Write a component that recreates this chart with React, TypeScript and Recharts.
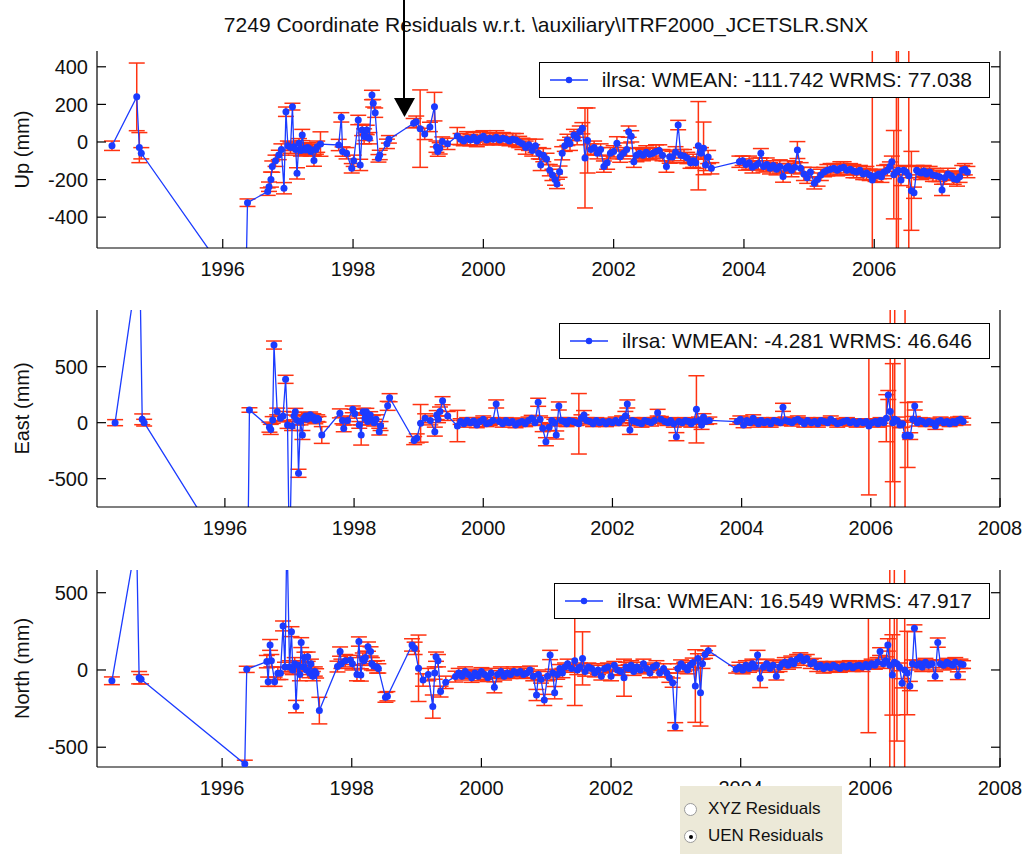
import React from "react";
import { ComposedChart, Line, Scatter, XAxis, YAxis, Legend, Label } from "recharts";

const FONT = '"Liberation Sans", Arial, Helvetica, sans-serif';
const BLUE = "#1b3bff";
const RED = "#ff3311";

// observation epochs (decimal year), shared by the three components
const epochs = [
  1994.30, 1994.68, 1994.72, 1994.75, 1996.35, 1996.38, 1996.69, 1996.71, 1996.74, 1996.76,
  1996.81, 1996.86, 1996.90, 1996.94, 1996.97, 1997.00, 1997.04, 1997.07, 1997.09, 1997.12,
  1997.14, 1997.17, 1997.20, 1997.22, 1997.25, 1997.27, 1997.30, 1997.32, 1997.35, 1997.37,
  1997.40, 1997.43, 1997.45, 1997.50, 1997.78, 1997.82, 1997.84, 1997.90, 1997.98, 1998.01,
  1998.08, 1998.11, 1998.14, 1998.17, 1998.19, 1998.21, 1998.25, 1998.29, 1998.31, 1998.34,
  1998.39, 1998.41, 1998.52, 1998.55, 1998.93, 1998.97, 1999.03, 1999.10, 1999.18, 1999.25,
  1999.28, 1999.30, 1999.33, 1999.37, 1999.45, 1999.60,
  1999.65, 1999.70, 1999.75, 1999.80, 1999.85, 1999.90, 1999.95, 2000.00, 2000.05, 2000.10,
  2000.15, 2000.20, 2000.25, 2000.30, 2000.35, 2000.40, 2000.45, 2000.50, 2000.55, 2000.60,
  2000.65, 2000.70, 2000.75, 2000.80, 2000.85, 2000.88, 2000.92, 2000.97, 2001.02, 2001.06,
  2001.10, 2001.13, 2001.17, 2001.21, 2001.25, 2001.29, 2001.33, 2001.39, 2001.44, 2001.48,
  2001.52, 2001.56, 2001.60, 2001.65, 2001.70, 2001.75, 2001.80, 2001.85, 2001.90, 2001.95,
  2002.00, 2002.05, 2002.10, 2002.15, 2002.20, 2002.23, 2002.27, 2002.31, 2002.35, 2002.40,
  2002.45, 2002.50, 2002.55, 2002.60, 2002.65, 2002.70, 2002.75, 2002.81, 2002.86, 2002.90,
  2002.95, 2002.99, 2003.03, 2003.08, 2003.13, 2003.18, 2003.22, 2003.26, 2003.30, 2003.34,
  2003.38, 2003.41, 2003.45, 2003.50,
  2003.93, 2003.98, 2004.03, 2004.08, 2004.13, 2004.18, 2004.22, 2004.26, 2004.30, 2004.35,
  2004.40, 2004.45, 2004.50, 2004.55, 2004.60, 2004.64, 2004.68, 2004.73, 2004.78, 2004.82,
  2004.87, 2004.92, 2004.97, 2005.02, 2005.08, 2005.13, 2005.18, 2005.23, 2005.28, 2005.33,
  2005.38, 2005.43, 2005.48, 2005.53, 2005.58, 2005.63, 2005.68, 2005.73, 2005.78, 2005.83,
  2005.88, 2005.93, 2005.97, 2006.02, 2006.07, 2006.11, 2006.15, 2006.20, 2006.24, 2006.27,
  2006.30, 2006.34, 2006.37, 2006.41, 2006.45, 2006.49, 2006.53, 2006.57, 2006.61, 2006.65,
  2006.68, 2006.72, 2006.76, 2006.80, 2006.85, 2006.90, 2006.95, 2007.00, 2007.04, 2007.08,
  2007.13, 2007.18, 2007.22, 2007.27, 2007.31, 2007.35, 2007.39, 2007.43,
];

// Up residuals (mm) and 1-sigma errors
const upValues = [
  -20, 240, -30, -60, -850, -323, -264, -238, -200, -131,
  -100, -69, -40, -246, 161, -20, -30, 188, -25, -40,
  -167, -7, -45, 37, -35, -43, -30, -34, -50, -43,
  -99, -40, -25, -11, -16, 131, -51, -60, -140, -100,
  117, -122, 64, 30, 28, 64, 20, 250, 206, 156,
  -87, -69, -10, 14, 100, 108, 71, 43, 80, 188,
  -25, -51, -34, 2, -10, 32,
  15, 5, 20, 10, 25, 5, 20, 30, 10, 20,
  15, 25, 10, 20, 15, 5, 15, 10, 0, -10,
  -30, -15, -45, -20, -60, -122, -70, -90, -150, -175,
  -200, -223, -158, -60, -20, 11, -10, 37, 20, 55,
  73, -85, 8, -40, -30, -60, -40, -131, -110, -60,
  -50, -7, -78, -60, -40, 55, 30, -105, -70, -60,
  -70, -55, -65, -60, -50, -45, -70, -131, -78, -80,
  -55, 90, -70, -75, -85, -110, -100, -110, -20, -60,
  -34, -122, -80, -140,
  -105, -100, -120, -110, -135, -125, -115, -60, -130, -120,
  -140, -125, -145, -130, -184, -140, -130, -150, -135, -43,
  -140, -170, -190, -160, -220, -200, -175, -160, -150, -145,
  -140, -150, -140, -135, -150, -145, -155, -160, -150, -170,
  -165, -175, -202, -180, -170, -185, -160, -150, -131, -105,
  -174, -160, -150, -202, -150, -160, -180, -260, -270, -150,
  -160, -165, -155, -170, -160, -175, -180, -185, -255, -190,
  -170, -180, -195, -200, -185, -150, -145, -160,
];
const upErrors = [
  25, 180, 80, 30, 30, 20, 20, 25, 40, 30,
  30, 25, 30, 30, 25, 25, 30, 18, 20, 30,
  30, 25, 30, 30, 25, 25, 25, 30, 25, 30,
  30, 25, 30, 65, 30, 25, 25, 30, 25, 30,
  25, 30, 30, 40, 20, 25, 30, 25, 20, 25,
  20, 25, 25, 20, 25, 30, 206, 30, 25, 76,
  30, 25, 30, 25, 30, 45,
  30, 25, 35, 30, 25, 30, 35, 30, 25, 30,
  30, 35, 25, 30, 30, 25, 30, 35, 30, 30,
  35, 30, 30, 35, 30, 30, 35, 30, 30, 30,
  30, 25, 30, 35, 30, 30, 35, 30, 35, 30,
  30, 266, 173, 30, 35, 30, 30, 30, 35, 30,
  30, 35, 30, 30, 35, 30, 30, 30, 35, 30,
  30, 35, 30, 30, 35, 30, 30, 30, 35, 30,
  30, 25, 30, 35, 30, 30, 35, 30, 235, 30,
  140, 30, 35, 30,
  30, 25, 30, 35, 30, 25, 30, 25, 30, 35,
  30, 25, 30, 35, 30, 25, 30, 35, 30, 45,
  30, 35, 30, 25, 30, 35, 30, 25, 30, 30,
  25, 30, 35, 30, 25, 30, 35, 30, 25, 30,
  35, 30, 800, 30, 25, 30, 35, 30, 25, 30,
  235, 900, 900, 30, 25, 30, 800, 210, 30, 25,
  30, 35, 30, 25, 30, 35, 30, 25, 30, 35,
  30, 25, 30, 35, 30, 25, 30, 30,
];

// East residuals (mm) and errors
const eastValues = [
  0, 1520, 30, 0, -1480, 113, -40, -60, 24, 693,
  100, 39, 60, 387, -21, -1300, -30, 60, 98, 20,
  -452, 10, -110, 40, 60, 30, 50, 70, 40, 50,
  20, 40, 30, -110, 83, 20, -51, 20, 119, 80,
  -20, -110, 98, 40, 98, 10, 68, 24, 0, 30,
  -80, -30, 150, 223, -160, -140, -6, 39, 20, -80,
  68, 30, 100, 196, 60, -30,
  10, -10, 20, 0, 15, -20, 10, 30, -10, 0,
  20, 167, 10, -10, 20, 0, 10, -20, 0, 10,
  -10, 20, 40, 0, 182, 30, -50, -170, -40, 20,
  0, -110, 149, 20, 10, -10, 20, 10, 0, -10,
  40, 68, 20, 10, -10, 20, 0, 10, -10, 10,
  0, 20, 0, 30, 60, 167, -65, 20, 10, 0,
  -10, 20, 10, 0, 20, 89, 30, 10, 0, 20,
  -10, -125, 10, 0, 20, 10, -10, 10, 119, 20,
  -20, 50, 10, 20,
  10, 30, -20, 20, 0, 40, 10, -10, 20, 0,
  10, -10, 20, 10, 0, 137, 20, 10, 0, 20,
  30, 10, -10, 20, 0, 10, -10, 20, 10, 0,
  30, 10, -10, 0, 10, 20, 0, 10, -10, 10,
  0, 10, -30, 0, 10, -10, 20, 0, 40, 247,
  100, 0, 30, 20, -20, -10, -120, -110, -120, 30,
  149, 0, 20, 10, -10, 10, 0, -30, 10, 20,
  0, 10, -10, 10, 0, 20, 30, 10,
];
const eastErrors = [
  27, 50, 48, 30, 30, 20, 45, 45, 30, 36,
  30, 30, 40, 36, 30, 40, 40, 35, 30, 40,
  36, 30, 40, 30, 30, 30, 30, 25, 30, 30,
  30, 30, 25, 75, 40, 30, 30, 40, 30, 40,
  30, 90, 30, 40, 30, 30, 30, 40, 30, 40,
  30, 40, 40, 36, 36, 40, 168, 40, 40, 40,
  40, 30, 40, 36, 40, 140,
  25, 30, 25, 25, 30, 25, 25, 30, 25, 25,
  25, 36, 25, 30, 25, 25, 30, 25, 25, 30,
  25, 30, 25, 25, 36, 30, 30, 36, 30, 25,
  30, 36, 36, 25, 30, 25, 25, 30, 25, 270,
  30, 40, 25, 30, 25, 25, 30, 25, 25, 30,
  25, 30, 25, 30, 40, 36, 40, 25, 30, 25,
  30, 25, 25, 30, 25, 30, 25, 30, 25, 25,
  30, 36, 25, 30, 25, 25, 30, 25, 300, 30,
  40, 30, 25, 30,
  25, 30, 25, 30, 25, 30, 25, 30, 25, 30,
  25, 30, 25, 30, 25, 36, 30, 25, 30, 25,
  30, 25, 30, 25, 30, 25, 30, 25, 30, 25,
  30, 25, 30, 25, 30, 25, 30, 25, 30, 25,
  30, 25, 615, 30, 25, 30, 25, 30, 210, 40,
  1300, 527, 1300, 30, 25, 30, 1300, 290, 30, 25,
  36, 30, 25, 30, 25, 30, 25, 30, 25, 30,
  25, 30, 25, 30, 25, 30, 25, 30,
];

// North residuals (mm) and errors
const northValues = [
  -70, 850, -50, -60, -609, 4, 54, -76, 162, 60,
  -76, -22, -22, 285, 20, 900, 20, 248, 0, 40,
  -237, 30, -30, 177, 20, 80, 0, 86, -20, 40,
  -40, -10, -22, -263, 22, 119, 40, 60, 65, 40,
  -30, 184, -32, 70, 60, 80, 151, 120, 40, 26,
  20, 10, -177, -170, 162, 140, 11, -65, -30, -237,
  -20, 86, 60, -140, -80, -43,
  -20, -40, -10, -30, -50, -20, -40, -10, -30, -50,
  -20, -112, -30, -10, -40, -20, -30, -10, -20, -10,
  -30, -20, 0, -40, -162, -30, -60, -194, -40, 97,
  -20, -147, -30, 10, -20, 20, 40, 10, 60, 0,
  20, 75, -10, 20, 10, -20, 0, -40, 10, 20,
  -40, 30, 0, -10, -50, 20, 10, 30, -10, 20,
  0, 40, 10, -20, 20, 30, -20, 10, -20, -50,
  -82, -367, 10, 40, 20, 0, 30, 47, -104, 75,
  -147, 40, 100, 125,
  5, 20, 0, 30, 10, 40, 20, 97, -54, 20,
  40, 10, 30, -40, 20, 40, 50, 30, 60, 40,
  70, 86, 60, 75, 40, 50, 20, 30, 10, 25,
  15, 30, 20, 10, 25, 20, 30, 15, 25, 30,
  20, 35, 20, 40, 30, 50, 119, 40, 60, 162,
  30, -32, 50, 40, 20, -86, 0, -20, -104, 40,
  270, 30, 40, 20, 50, 30, 40, -40, 177, 40,
  30, 50, 40, 30, 50, -37, 40, 35,
];
const northErrors = [
  25, 40, 40, 30, 25, 20, 40, 30, 35, 40,
  30, 40, 40, 32, 30, 40, 40, 32, 30, 40,
  40, 30, 40, 32, 30, 35, 30, 30, 30, 30,
  30, 30, 30, 86, 35, 30, 30, 40, 30, 40,
  40, 30, 40, 40, 30, 40, 30, 30, 40, 30,
  40, 30, 32, 30, 40, 40, 215, 40, 40, 75,
  40, 30, 40, 35, 40, 35,
  30, 25, 30, 25, 30, 25, 30, 25, 30, 25,
  30, 36, 25, 30, 25, 30, 25, 30, 25, 30,
  25, 30, 25, 30, 36, 30, 25, 36, 30, 30,
  25, 40, 30, 25, 30, 25, 30, 25, 290, 30,
  25, 172, 30, 25, 30, 25, 30, 25, 30, 25,
  30, 25, 30, 25, 120, 30, 25, 30, 25, 30,
  25, 30, 25, 30, 25, 30, 25, 30, 25, 30,
  30, 26, 30, 25, 30, 25, 30, 30, 235, 30,
  216, 30, 25, 30,
  25, 30, 25, 30, 25, 30, 25, 30, 60, 25,
  30, 25, 30, 25, 30, 25, 30, 25, 30, 25,
  30, 25, 30, 25, 30, 25, 30, 25, 30, 25,
  30, 25, 30, 25, 30, 25, 30, 25, 30, 25,
  30, 25, 426, 30, 25, 30, 25, 30, 25, 40,
  1300, 260, 1300, 500, 25, 30, 1300, 270, 30, 25,
  22, 30, 25, 30, 25, 30, 25, 30, 30, 25,
  30, 25, 30, 25, 30, 25, 30, 25,
];

const yearTicks = [1996, 1998, 2000, 2002, 2004, 2006, 2008];
const upYearTicks = [1996, 1998, 2000, 2002, 2004, 2006];
const upTicks = [-400, -200, 0, 200, 400];
const eastTicks = [-500, 0, 500];
const northTicks = [-500, 0, 500];

// residual rows, error bars as vertical segments (low, high, gap) for a clipped Line,
// and the cap positions that fall inside the y range
function buildSeries(values: number[], errors: number[], yDomain: number[]) {
  const rows = epochs.map((t, i) => ({ t, v: values[i] }));
  const bars: { t: number; e: number | null }[] = [];
  const caps: { t: number; cap: number }[] = [];
  epochs.forEach((t, i) => {
    const lo = values[i] - errors[i];
    const hi = values[i] + errors[i];
    bars.push({ t, e: lo }, { t, e: hi }, { t, e: null });
    [lo, hi].forEach((c) => {
      if (c >= yDomain[0] && c <= yDomain[1]) caps.push({ t, cap: c });
    });
  });
  return { rows, bars, caps };
}

const CHART_W = 1030;
const PLOT_TOP = 10;
const PLOT_H = 197;
const X_AXIS_H = 40;
const LEFT_MARGIN = 37;
const Y_AXIS_W = 60;
const RIGHT_AXIS_W = 30;
const TICK_LEN = 9;
const PLOT_LEFT = LEFT_MARGIN + Y_AXIS_W;
const PLOT_W = CHART_W - PLOT_LEFT - RIGHT_AXIS_W;
const CHART_H = PLOT_TOP + PLOT_H + X_AXIS_H;

const panels = [
  {
    key: "up",
    label: "Up (mm)",
    top: 41,
    maskAbove: 41,
    xDomain: [1994.07, 2007.93],
    xTicks: upYearTicks,
    yDomain: [-564, 484],
    yTicks: upTicks,
    legend: "ilrsa: WMEAN: -111.742 WRMS: 77.038",
    legendTop: 21,
    ...buildSeries(upValues, upErrors, [-564, 484]),
  },
  {
    key: "east",
    label: "East (mm)",
    top: 300,
    maskAbove: 10,
    xDomain: [1994.02, 2008],
    xTicks: yearTicks,
    yDomain: [-753, 1006],
    yTicks: eastTicks,
    legend: "ilrsa: WMEAN: -4.281 WRMS: 46.646",
    legendTop: 23,
    ...buildSeries(eastValues, eastErrors, [-753, 1006]),
  },
  {
    key: "north",
    label: "North (mm)",
    top: 560,
    maskAbove: 10,
    xDomain: [1994.07, 2008],
    xTicks: yearTicks,
    yDomain: [-628, 647],
    yTicks: northTicks,
    legend: "ilrsa: WMEAN: 16.549 WRMS: 47.917",
    legendTop: 23,
    ...buildSeries(northValues, northErrors, [-628, 647]),
  },
];

const BottomTick = (props: any) => {
  const { x, y, payload } = props;
  return (
    <g>
      <line x1={x} y1={y} x2={x} y2={y - TICK_LEN} stroke="#000" strokeWidth={1.2} />
      <text x={x} y={y + 28} textAnchor="middle" fontSize={20} fontFamily={FONT} fill="#111">
        {payload.value}
      </text>
    </g>
  );
};

const TopTick = (props: any) => {
  const { x, y } = props;
  return <line x1={x} y1={y} x2={x} y2={y + TICK_LEN} stroke="#000" strokeWidth={1.2} />;
};

const LeftTick = (props: any) => {
  const { x, y, payload } = props;
  return (
    <g>
      <line x1={x} y1={y} x2={x + TICK_LEN} y2={y} stroke="#000" strokeWidth={1.2} />
      <text x={x - 9} y={y} dy="0.36em" textAnchor="end" fontSize={20} fontFamily={FONT} fill="#111">
        {payload.value}
      </text>
    </g>
  );
};

const RightTick = (props: any) => {
  const { x, y } = props;
  return <line x1={x} y1={y} x2={x - TICK_LEN} y2={y} stroke="#000" strokeWidth={1.2} />;
};

// horizontal end cap of an error bar
const CapShape = (props: any) => {
  const { cx, cy } = props;
  if (cx == null || cy == null) return null;
  return <line x1={cx - 8} y1={cy} x2={cx + 8} y2={cy} stroke={RED} strokeWidth={1.5} />;
};

const LegendBox = ({ text }: { text: string }) => (
  <div
    style={{
      display: "flex",
      alignItems: "center",
      height: 34,
      border: "1.5px solid #000",
      background: "#fff",
      padding: "0 17px 0 10px",
    }}
  >
    <svg width={38} height={12} style={{ marginRight: 14, flex: "none" }}>
      <line x1={0} y1={6} x2={38} y2={6} stroke={BLUE} strokeWidth={1.5} />
      <circle cx={19} cy={6} r={3.2} fill={BLUE} />
    </svg>
    <span style={{ fontFamily: FONT, fontSize: 21, color: "#111", whiteSpace: "nowrap" }}>{text}</span>
  </div>
);

// the same axis frame for the error-bar layer and the main layer
function axes(p: any, withTicks: boolean) {
  const frame = withTicks ? { stroke: "#000", strokeWidth: 1.2 } : false;
  return [
    <XAxis
      key="xb"
      xAxisId="b"
      dataKey="t"
      type="number"
      domain={p.xDomain}
      ticks={p.xTicks}
      allowDataOverflow
      interval={0}
      height={X_AXIS_H}
      tickSize={0}
      tickMargin={0}
      tickLine={false}
      axisLine={frame}
      tick={withTicks ? (q: any) => <BottomTick {...q} /> : false}
    />,
    <XAxis
      key="xt"
      xAxisId="t"
      orientation="top"
      dataKey="t"
      type="number"
      domain={p.xDomain}
      ticks={p.xTicks}
      allowDataOverflow
      interval={0}
      height={0}
      tickSize={0}
      tickMargin={0}
      tickLine={false}
      axisLine={frame}
      tick={withTicks ? (q: any) => <TopTick {...q} /> : false}
    />,
    <YAxis
      key="yr"
      yAxisId="r"
      orientation="right"
      type="number"
      domain={p.yDomain}
      ticks={p.yTicks}
      allowDataOverflow
      interval={0}
      width={RIGHT_AXIS_W}
      tickSize={0}
      tickMargin={0}
      tickLine={false}
      axisLine={frame}
      tick={withTicks ? (q: any) => <RightTick {...q} /> : false}
    />,
  ];
}

// white strips around the plot box, laid between the error-bar layer and the axes layer,
// so that bars running off the axes stop at the frame
function Masks({ above }: { above: number }) {
  const white = { position: "absolute" as const, background: "#fff" };
  const below = 60;
  return (
    <>
      <div style={{ ...white, left: 0, top: -above, width: CHART_W, height: PLOT_TOP + above }} />
      <div style={{ ...white, left: 0, top: PLOT_TOP + PLOT_H, width: CHART_W, height: X_AXIS_H + below }} />
      <div style={{ ...white, left: 0, top: PLOT_TOP, width: PLOT_LEFT, height: PLOT_H }} />
      <div style={{ ...white, left: PLOT_LEFT + PLOT_W, top: PLOT_TOP, width: RIGHT_AXIS_W, height: PLOT_H }} />
    </>
  );
}

function Panel({ p }: { p: any }) {
  const midY = PLOT_TOP + PLOT_H / 2;
  return (
    <div style={{ position: "absolute", left: 0, top: p.top, width: CHART_W, height: CHART_H }}>
      {/* error bars underneath */}
      <div style={{ position: "absolute", left: 0, top: 0 }}>
        <ComposedChart
          width={CHART_W}
          height={CHART_H}
          data={p.rows}
          margin={{ top: PLOT_TOP, right: 0, bottom: 0, left: LEFT_MARGIN }}
        >
          {axes(p, false)}
          <YAxis
            yAxisId="l"
            type="number"
            domain={p.yDomain}
            ticks={p.yTicks}
            allowDataOverflow
            width={Y_AXIS_W}
            tick={false}
            tickLine={false}
            axisLine={false}
          />
          <Line
            xAxisId="b"
            yAxisId="l"
            data={p.bars}
            dataKey="e"
            type="linear"
            stroke={RED}
            strokeWidth={1.5}
            dot={false}
            activeDot={false}
            connectNulls={false}
            legendType="none"
            isAnimationActive={false}
          />
          <Scatter
            xAxisId="b"
            yAxisId="l"
            data={p.caps}
            dataKey="cap"
            shape={CapShape}
            legendType="none"
            isAnimationActive={false}
          />
        </ComposedChart>
      </div>
      <Masks above={p.maskAbove} />
      {/* axes frame, residual line and legend */}
      <div style={{ position: "absolute", left: 0, top: 0 }}>
        <ComposedChart
          width={CHART_W}
          height={CHART_H}
          data={p.rows}
          margin={{ top: PLOT_TOP, right: 0, bottom: 0, left: LEFT_MARGIN }}
        >
          {axes(p, true)}
          <YAxis
            yAxisId="l"
            type="number"
            domain={p.yDomain}
            ticks={p.yTicks}
            allowDataOverflow
            interval={0}
            width={Y_AXIS_W}
            tickSize={0}
            tickMargin={0}
            tickLine={false}
            axisLine={{ stroke: "#000", strokeWidth: 1.2 }}
            tick={(q: any) => <LeftTick {...q} />}
          >
            <Label
              content={() => (
                <text
                  x={29}
                  y={midY}
                  transform={`rotate(-90 29 ${midY})`}
                  textAnchor="middle"
                  fontSize={20}
                  fontFamily={FONT}
                  fill="#111"
                >
                  {p.label}
                </text>
              )}
            />
          </YAxis>
          <Line
            xAxisId="b"
            yAxisId="l"
            dataKey="v"
            stroke={BLUE}
            strokeWidth={1.3}
            dot={{ r: 3.5, fill: BLUE, stroke: BLUE, strokeWidth: 0 }}
            activeDot={false}
            isAnimationActive={false}
          />
          <Legend
            layout="vertical"
            align="center"
            verticalAlign="middle"
            wrapperStyle={{ top: p.legendTop, right: 40 }}
            content={() => <LegendBox text={p.legend} />}
          />
        </ComposedChart>
      </div>
    </div>
  );
}

export default function App() {
  return (
    <div style={{ position: "absolute", left: 0, top: 0, width: 1030, height: 854, background: "#fff", overflow: "hidden" }}>
      {panels.map((p) => (
        <Panel key={p.key} p={p} />
      ))}
      <svg width={1030} height={130} style={{ position: "absolute", left: 0, top: 0, pointerEvents: "none" }}>
        <text x={546} y={32} textAnchor="middle" fontSize={21} fontFamily={FONT} fill="#111">
          7249 Coordinate Residuals w.r.t. \auxiliary\ITRF2000_JCETSLR.SNX
        </text>
        <line x1={404} y1={0} x2={404} y2={100} stroke="#000" strokeWidth={2} />
        <polygon points="394,98 415,98 404.5,117" fill="#000" />
      </svg>
      <div
        style={{
          position: "absolute",
          left: 680,
          top: 786,
          width: 162,
          height: 68,
          background: "#ECE9D8",
          fontFamily: FONT,
          fontSize: 17,
          color: "#111",
        }}
      >
        <div style={{ position: "absolute", left: 4, top: 17, width: 13, height: 13, borderRadius: "50%", background: "#fff", border: "1px solid #9a9a9a", boxSizing: "border-box" }} />
        <div style={{ position: "absolute", left: 28, top: 13 }}>XYZ Residuals</div>
        <div style={{ position: "absolute", left: 4, top: 44, width: 13, height: 13, borderRadius: "50%", background: "#fff", border: "1px solid #9a9a9a", boxSizing: "border-box" }}>
          <div style={{ position: "absolute", left: 3.5, top: 3.5, width: 4, height: 4, borderRadius: "50%", background: "#000" }} />
        </div>
        <div style={{ position: "absolute", left: 28, top: 40 }}>UEN Residuals</div>
      </div>
    </div>
  );
}
